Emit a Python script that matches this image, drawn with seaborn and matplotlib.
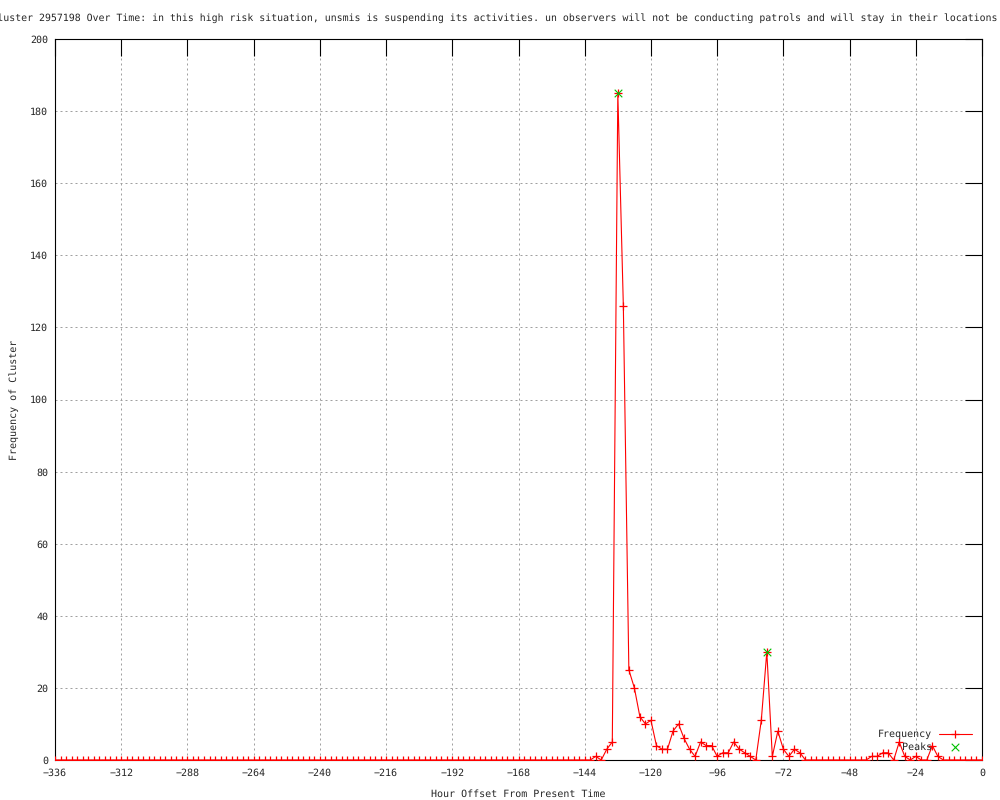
import matplotlib
matplotlib.use('Agg')
import matplotlib.pyplot as plt
import seaborn as sns
import pandas as pd

# horas: de -336 ate 0, a cada 2 horas
horas = list(range(-336, 1, 2))

# valores (tudo zero antes de -140 e depois de -16)
freq_inicio = [0] * 98  # -336 .. -142
freq_meio = [1, 0, 3, 5, 185, 126, 25, 20, 12, 10, 11, 4, 3, 3, 8, 10, 6, 3,
             1, 5, 4, 4, 1, 2, 2, 5, 3, 2, 1, 0, 11, 30, 1, 8, 3, 1, 3, 2]  # -140 .. -66
freq_zeros = [0] * 12  # -64 .. -42
freq_fim = [1, 1, 2, 2, 0, 5, 1, 0, 1, 0, 0, 4, 1]  # -40 .. -16
freq_final = [0] * 8  # -14 .. 0
frequencia = freq_inicio + freq_meio + freq_zeros + freq_fim + freq_final

picos_x = [-132, -78]
picos_y = [185, 30]

titulo = ('Frequency of Cluster 2957198 Over Time: in this high risk situation, '
          'unsmis is suspending its activities. un observers will not be '
          'conducting patrols and will stay in their locations')

df = pd.DataFrame({'hora': horas, 'freq': frequencia})
df_picos = pd.DataFrame({'hora': picos_x, 'freq': picos_y})

sns.set_style('white')
plt.rcParams['font.family'] = ['DejaVu Sans Mono']
plt.rcParams['font.size'] = 7.2
plt.rcParams['text.hinting'] = 'no_hinting'

fig = plt.figure(figsize=(10, 8), dpi=100)
ax = fig.add_axes([0.055, 0.05, 0.927, 0.90125])

sns.lineplot(data=df, x='hora', y='freq', color='red', linewidth=0.8,
             marker='+', markersize=6, markeredgecolor='red',
             markeredgewidth=0.9, label='Frequency', ax=ax, zorder=3)
sns.scatterplot(data=df_picos, x='hora', y='freq', color='#00c000',
                marker='x', s=30, linewidth=0.8, label='    Peaks', ax=ax,
                zorder=4)

ax.set_xlim(-336, 0)
ax.set_ylim(0, 200)
ax.set_xticks(range(-336, 1, 24))
ax.set_yticks(range(0, 201, 20))

ax.grid(True, color='#a0a0a0', linestyle=(0, (2, 3)), linewidth=0.72)
for s in ax.spines.values():
    s.set_color('black')
    s.set_linewidth(0.8)

ax.tick_params(axis='both', direction='in', top=True, right=True,
               length=12, width=0.8, color='black', labelsize=7.2)
ax.tick_params(axis='x', pad=6)
ax.tick_params(axis='y', pad=5)

# ticks da esquerda mais curtos, como no original
for t in ax.yaxis.get_major_ticks():
    t.tick1line.set_markersize(3.6)

ax.set_xlabel('Hour Offset From Present Time', fontsize=7.2, labelpad=8)
ax.set_ylabel('Frequency of Cluster', fontsize=7.2, labelpad=8)

fig.text(0.997, 0.977, titulo, ha='right', va='center', fontsize=7.145)

leg = ax.legend(loc='lower right', bbox_to_anchor=(0.989, 0.011),
                frameon=False, markerfirst=False, borderaxespad=0,
                borderpad=0, labelspacing=0.3, handlelength=3.3,
                handletextpad=0.7, fontsize=7.2)

plt.savefig('out.png', dpi=100)
